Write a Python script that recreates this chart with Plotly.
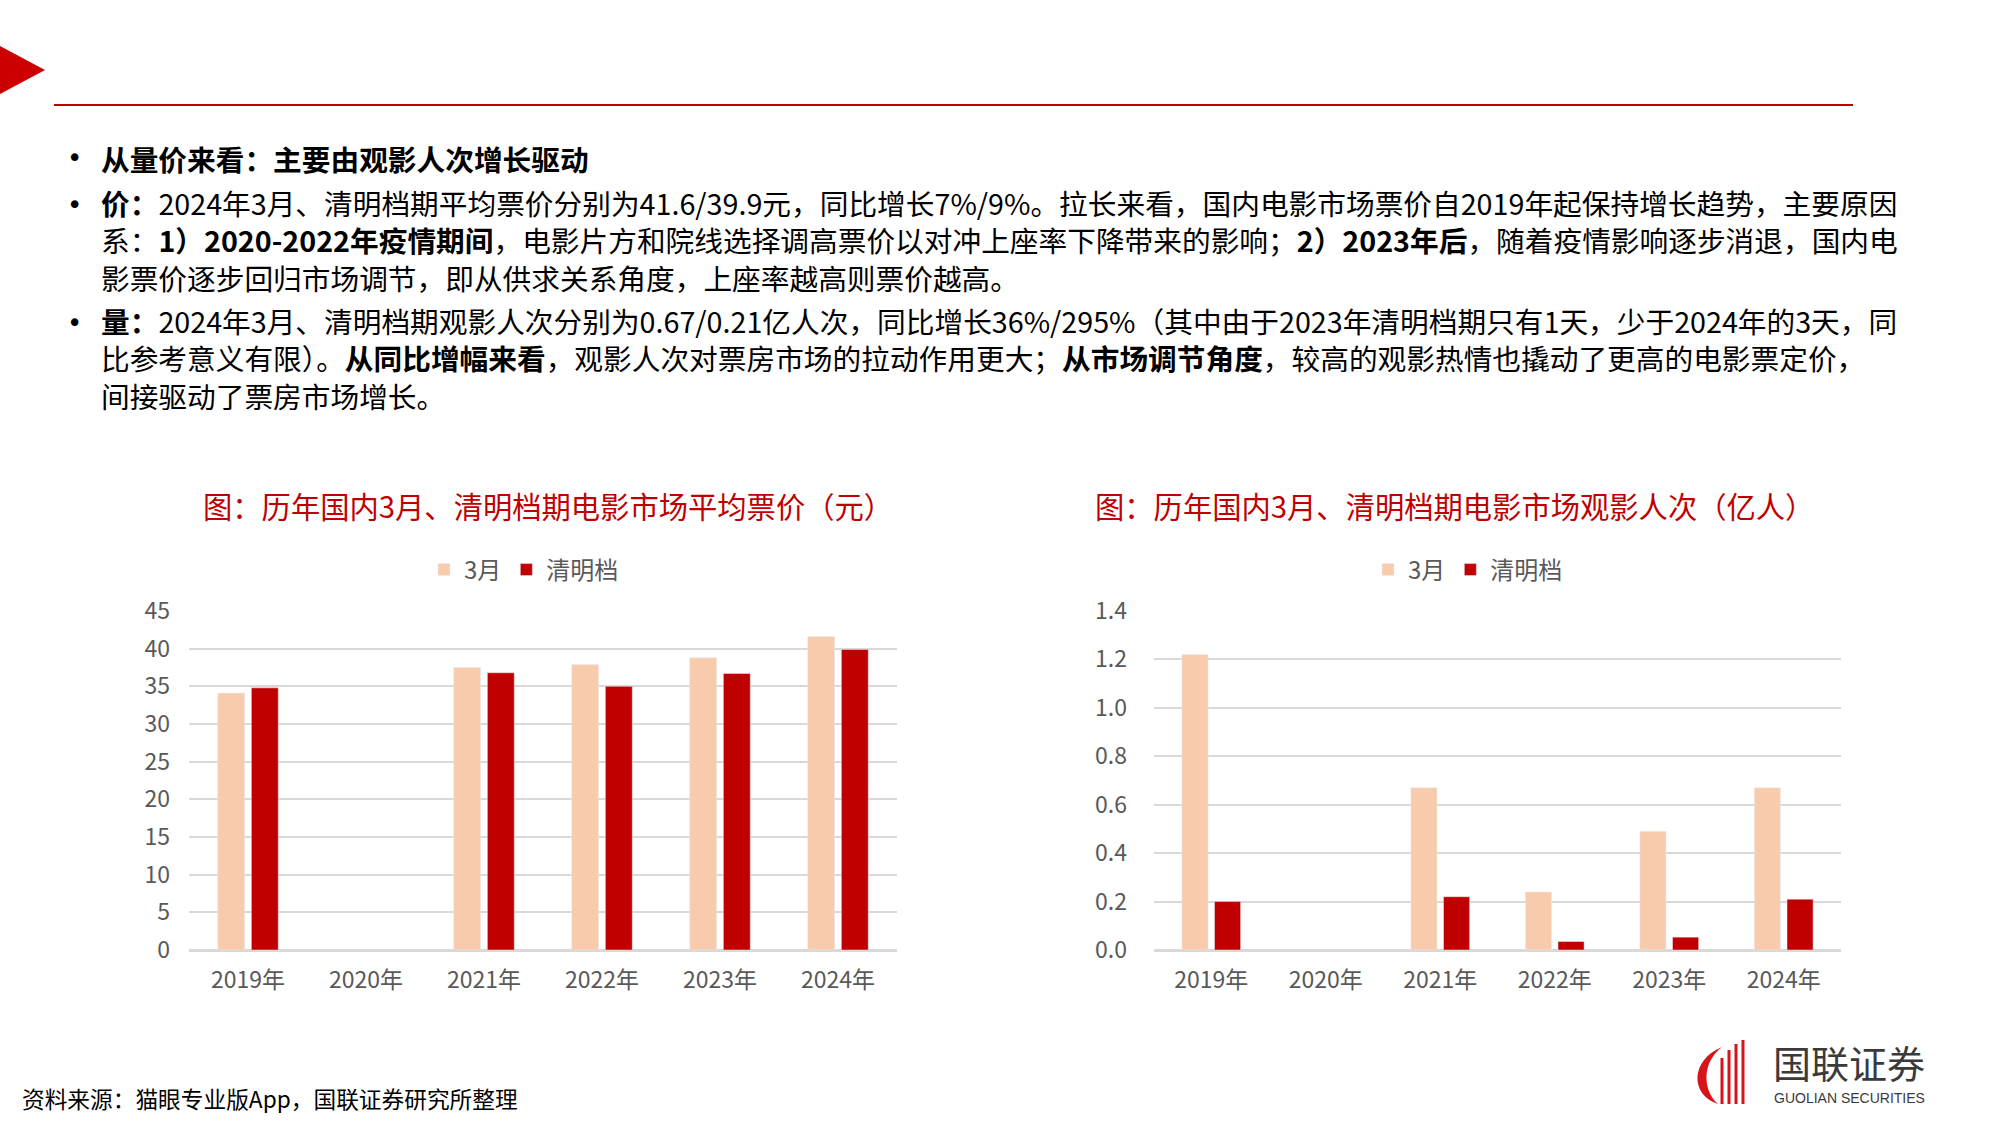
import plotly.graph_objects as go

# ---------------- data ----------------
years = ["2019年", "2020年", "2021年", "2022年", "2023年", "2024年"]
price_march = [34.1, None, 37.5, 37.9, 38.8, 41.6]
price_qingming = [34.8, None, 36.8, 35.0, 36.7, 39.9]
audience_march = [1.22, None, 0.67, 0.24, 0.49, 0.67]
audience_qingming = [0.20, None, 0.22, 0.035, 0.053, 0.21]

series_names = ["3月", "清明档"]
chart_titles = ["图：历年国内3月、清明档期电影市场平均票价（元）",
                "图：历年国内3月、清明档期电影市场观影人次（亿人）"]

paragraph_1 = ["<b>从量价来看：主要由观影人次增长驱动</b>"]
paragraph_2 = [
    "<b>价：</b>2024年3月、清明档期平均票价分别为41.6/39.9元，同比增长7%/9%。拉长来看，国内电影市场票价自2019年起保持增长趋势，主要原因",
    "系：<b>1）2020-2022年疫情期间</b>，电影片方和院线选择调高票价以对冲上座率下降带来的影响；<b>2）2023年后</b>，随着疫情影响逐步消退，国内电",
    "影票价逐步回归市场调节，即从供求关系角度，上座率越高则票价越高。",
]
paragraph_3 = [
    "<b>量：</b>2024年3月、清明档期观影人次分别为0.67/0.21亿人次，同比增长36%/295%（其中由于2023年清明档期只有1天，少于2024年的3天，同",
    "比参考意义有限）。<b>从同比增幅来看</b>，观影人次对票房市场的拉动作用更大；<b>从市场调节角度</b>，较高的观影热情也撬动了更高的电影票定价，",
    "间接驱动了票房市场增长。",
]
paragraphs = [paragraph_1, paragraph_2, paragraph_3]
para_center_y = [158, 240, 358]
bullet_y = [158, 205, 323]
source_text = "资料来源：猫眼专业版App，国联证券研究所整理"

# ---------------- style ----------------
W, H = 2000, 1125
PEACH = "#F8CBAD"
RED = "#C00000"
GRID = "#D9D9D9"
TICK = "#595959"
FONT = "Noto Sans CJK SC"


def px(x):
    return x / W


def py(y):
    return 1 - y / H


fig = go.Figure()

fig.add_trace(go.Bar(x=years, y=price_march, name=series_names[0], marker_color=PEACH,
                     xaxis="x", yaxis="y", legend="legend"))
fig.add_trace(go.Bar(x=years, y=price_qingming, name=series_names[1], marker_color=RED,
                     xaxis="x", yaxis="y", legend="legend"))
fig.add_trace(go.Bar(x=years, y=audience_march, name=series_names[0], marker_color=PEACH,
                     xaxis="x2", yaxis="y2", legend="legend2"))
fig.add_trace(go.Bar(x=years, y=audience_qingming, name=series_names[1], marker_color=RED,
                     xaxis="x2", yaxis="y2", legend="legend2"))

xcommon = dict(showgrid=False, zeroline=False, showline=False, ticks="",
               ticklabelstandoff=14,
               tickfont=dict(family=FONT, size=23, color=TICK), fixedrange=True)
ycommon = dict(showgrid=True, gridcolor=GRID, gridwidth=2, zeroline=True, zerolinecolor=GRID,
               zerolinewidth=2.5, showline=False, ticks="",
               tickfont=dict(family=FONT, size=23, color=TICK))

legend_common = dict(orientation="h", xanchor="center", yanchor="middle",
                     font=dict(family=FONT, size=24, color=TICK), bgcolor="rgba(0,0,0,0)",
                     itemwidth=30, tracegroupgap=0, traceorder="normal")

fig.update_layout(
    width=W, height=H,
    margin=dict(l=0, r=0, t=0, b=0, autoexpand=False),
    paper_bgcolor="white", plot_bgcolor="white",
    barmode="group", bargap=0.43, bargroupgap=0.2,
    font=dict(family=FONT),
    showlegend=True,
    xaxis=dict(domain=[px(189), px(897)], anchor="y", **xcommon),
    yaxis=dict(domain=[py(950), py(611)], anchor="x", range=[0, 45], dtick=5,
               ticklabelstandoff=18, **ycommon),
    xaxis2=dict(domain=[px(1154), px(1841)], anchor="y2", **xcommon),
    yaxis2=dict(domain=[py(950), py(611)], anchor="x2", range=[0, 1.4], dtick=0.2,
                tickformat=".1f", ticklabelstandoff=26, **ycommon),
    legend=dict(x=px(524), y=py(570), **legend_common),
    legend2=dict(x=px(1468), y=py(570), **legend_common),
)

annotations = []
# chart titles
for cx, t in zip([548, 1454], chart_titles):
    annotations.append(dict(x=px(cx), y=py(505), xref="paper", yref="paper", text=t,
                            showarrow=False, xanchor="center", yanchor="middle",
                            font=dict(family=FONT, size=29.3, color=RED)))
# body text (one annotation per paragraph)
for lines, yy in zip(paragraphs, para_center_y):
    annotations.append(dict(x=px(99), y=py(yy), xref="paper", yref="paper",
                            text="<br>".join(lines), align="left",
                            showarrow=False, xanchor="left", yanchor="middle",
                            font=dict(family=FONT, size=28.7, color="black")))
for yy in bullet_y:
    annotations.append(dict(x=px(74), y=py(yy), xref="paper", yref="paper", text="•",
                            showarrow=False, xanchor="center", yanchor="middle",
                            font=dict(family="DejaVu Sans", size=26, color="black")))
# source
annotations.append(dict(x=px(20), y=py(1098), xref="paper", yref="paper", text=source_text,
                        showarrow=False, xanchor="left", yanchor="middle",
                        font=dict(family=FONT, size=22.7, color="black")))
# logo text
annotations.append(dict(x=px(1772), y=py(1061), xref="paper", yref="paper", text="国联证券",
                        showarrow=False, xanchor="left", yanchor="middle", borderpad=0,
                        font=dict(family=FONT, size=38, color="#3A3A3A")))
annotations.append(dict(x=px(1773), y=py(1098), xref="paper", yref="paper", text="GUOLIAN SECURITIES",
                        showarrow=False, xanchor="left", yanchor="middle", borderpad=0,
                        font=dict(family="Liberation Sans", size=14, color="#3A3A3A")))
fig.update_layout(annotations=annotations)

shapes = []
# header triangle
shapes.append(dict(type="path", xref="paper", yref="paper",
                   path=f"M {px(0)},{py(46)} L {px(45)},{py(70)} L {px(0)},{py(94)} Z",
                   fillcolor="#CC0000", line=dict(width=0)))
# header rule
shapes.append(dict(type="line", xref="paper", yref="paper",
                   x0=px(54), x1=px(1853), y0=py(105), y1=py(105),
                   line=dict(color="#C00000", width=2)))
# logo swoosh (approximation)
shapes.append(dict(type="path", xref="paper", yref="paper",
                   path=(f"M {px(1722)},{py(1047)} C {px(1690)},{py(1060)} {px(1690)},{py(1095)} {px(1718)},{py(1104)} "
                         f"C {px(1702)},{py(1090)} {px(1702)},{py(1062)} {px(1722)},{py(1047)} Z"),
                   fillcolor="#D7141A", line=dict(width=0)))
for k, (xx, top) in enumerate([(1722, 1058), (1729, 1050), (1736, 1044), (1743, 1040)]):
    shapes.append(dict(type="line", xref="paper", yref="paper",
                       x0=px(xx), x1=px(xx), y0=py(top), y1=py(1104),
                       line=dict(color="#D7141A", width=3)))
fig.update_layout(shapes=shapes)

fig.write_html("out.html")
